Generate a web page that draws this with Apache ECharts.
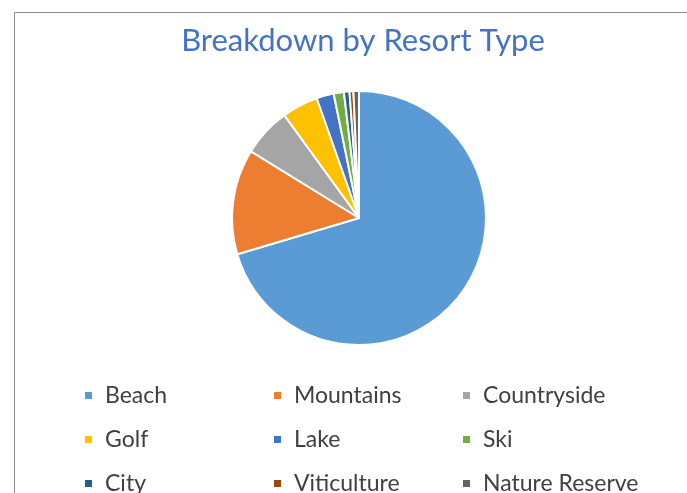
<!DOCTYPE html>
<html>
<head>
<meta charset="utf-8">
<script src="https://cdn.jsdelivr.net/npm/echarts@6/dist/echarts.min.js"></script>
<style>
  html, body { margin: 0; padding: 0; background: #fff; }
  #chart { width: 687px; height: 493px; }
</style>
</head>
<body>
<div id="chart"></div>
<script>
// resort types and their share (%)
var categories = ['Beach', 'Mountains', 'Countryside', 'Golf', 'Lake', 'Ski', 'City', 'Viticulture', 'Nature Reserve'];
var shares = [70.4, 13.4, 6.2, 4.6, 2.2, 1.3, 0.7, 0.5, 0.7];
var colors = ['#5B9BD5', '#ED7D31', '#A5A5A5', '#FFC000', '#4472C4', '#70AD47', '#255E91', '#9E480E', '#636363'];

var chart = echarts.init(document.getElementById('chart'));

var pieData = categories.map(function (name, i) {
  return { name: name, value: shares[i] };
});

// legend as a 3-column grid: one small legend per entry
var legends = categories.map(function (name, i) {
  var col = i % 3, row = Math.floor(i / 3);
  return {
    data: [name],
    left: 83 + col * 189,
    top: 384 + row * 44,
    padding: 0,
    itemWidth: 9,
    itemHeight: 9,
    icon: 'rect',
    selectedMode: false,
    textStyle: { color: '#404040', fontSize: 23, fontFamily: 'Lato', padding: [0, 0, 0, 7] }
  };
});

var option = {
  color: colors,
  animation: false,
  title: {
    text: 'Breakdown by Resort Type',
    left: 358,
    textAlign: 'center',
    top: 20,
    textStyle: { color: '#4472C4', fontSize: 31, fontWeight: 'normal', fontFamily: 'Lato' }
  },
  legend: legends,
  graphic: [{
    type: 'rect',
    shape: { x: 14.5, y: 12.5, width: 720, height: 520 },
    style: { fill: 'none', stroke: '#8c8c8c', lineWidth: 1 },
    silent: true
  }],
  series: [{
    type: 'pie',
    center: [359, 218],
    radius: 127,
    startAngle: 90,
    clockwise: true,
    label: { show: false },
    labelLine: { show: false },
    itemStyle: { borderColor: '#fff', borderWidth: 2 },
    data: pieData
  }]
};

chart.setOption(option);
</script>
</body>
</html>
